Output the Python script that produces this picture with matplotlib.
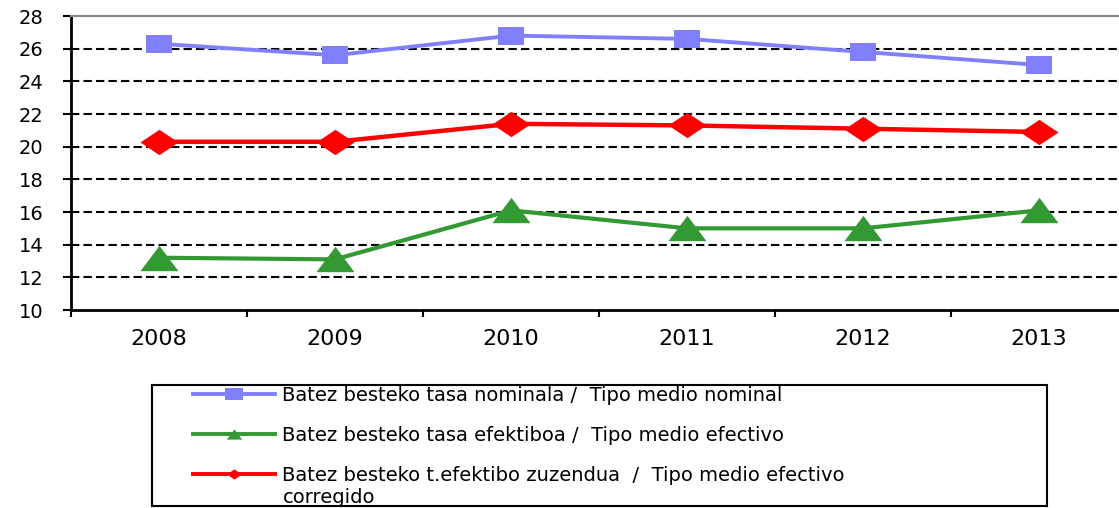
import matplotlib
matplotlib.use("Agg")
import matplotlib.pyplot as plt
from matplotlib.path import Path
from matplotlib.lines import Line2D
from matplotlib.patches import Rectangle

plt.rcParams['font.family'] = ['DejaVu Sans']

years = ["2008", "2009", "2010", "2011", "2012", "2013"]
nominal = [26.3, 25.6, 26.8, 26.6, 25.8, 25.0]
effective = [13.2, 13.1, 16.1, 15.0, 15.0, 16.1]
corrected = [20.3, 20.3, 21.4, 21.3, 21.1, 20.9]

labels = [
    "Batez besteko tasa nominala /  Tipo medio nominal",
    "Batez besteko tasa efektiboa /  Tipo medio efectivo",
    "Batez besteko t.efektibo zuzendua  /  Tipo medio efectivo",
]
label_tail = "corregido"
colors = ["#8080FF", "#339933", "#FF0000"]

# wide (stretched) marker shapes like the source picture
square = Path([(-1.5, -1), (1.5, -1), (1.5, 1), (-1.5, 1), (-1.5, -1)], closed=True)
triangle = Path([(-1.5, -1), (1.5, -1), (0, 1), (-1.5, -1)], closed=True)
diamond = Path([(-1.5, 0), (0, 1), (1.5, 0), (0, -1), (-1.5, 0)], closed=True)

fig = plt.figure(figsize=(11.19, 5.08), dpi=100)
ax = fig.add_axes([71 / 1119, 1 - 310 / 508, 1056 / 1119, 294 / 508])

x = range(len(years))
ax.plot(x, nominal, color=colors[0], lw=2.8, marker=square, markersize=18.7,
        markeredgewidth=0, zorder=4)
ax.plot(x, effective, color=colors[1], lw=3.0, marker=triangle, markersize=27.4,
        markeredgewidth=0, zorder=4)
ax.plot(x, corrected, color=colors[2], lw=3.2, marker=diamond, markersize=27.4,
        markeredgewidth=0, zorder=4)

ax.set_xlim(-0.5, 5.5)
ax.set_ylim(10, 28)
ax.set_yticks(range(10, 29, 2))
ax.set_xticks(list(x))
ax.set_xticklabels(years)
ax.set_xticks([i - 0.5 for i in range(7)], minor=True)

for v in range(12, 27, 2):
    ax.axhline(v, color="black", lw=1.5, linestyle=(0, (4, 2)), zorder=1)

ax.spines["right"].set_visible(False)
ax.spines["top"].set_color("#888888")
ax.spines["top"].set_linewidth(1.5)
ax.spines["left"].set_linewidth(2)
ax.spines["bottom"].set_linewidth(2)

ax.tick_params(axis="y", which="major", direction="out", length=6, width=1.5,
               labelsize=14, pad=14)
ax.tick_params(axis="x", which="major", length=0, labelsize=16, pad=14)
ax.tick_params(axis="x", which="minor", direction="out", length=5, width=1.5)

handles = [
    Line2D([], [], color=colors[0], lw=2.8, marker=square, markersize=12.5, markeredgewidth=0),
    Line2D([], [], color=colors[1], lw=2.8, marker=triangle, markersize=11, markeredgewidth=0),
    Line2D([], [], color=colors[2], lw=2.8, marker=diamond, markersize=11, markeredgewidth=0),
]
leg = fig.legend(handles, labels, loc="upper left",
                 bbox_to_anchor=(193 / 1119, 1 - 386 / 508), frameon=False,
                 borderpad=0, borderaxespad=0, handlelength=4.2, handletextpad=0.4,
                 labelspacing=1.08, prop={"size": 14})
fig.add_artist(Rectangle((152 / 1119, 1 - 506 / 508), 895 / 1119, 121 / 508,
                         transform=fig.transFigure, fill=False, edgecolor="black",
                         lw=1.5))

# second line of the last legend label, placed under its first line
fig.canvas.draw()
bb = leg.get_texts()[2].get_window_extent()
fig.text(bb.x0 / 1119, (bb.y0 - 22) / 508, label_tail, fontsize=14,
         ha="left", va="bottom")

fig.savefig("out.png", dpi=100)
